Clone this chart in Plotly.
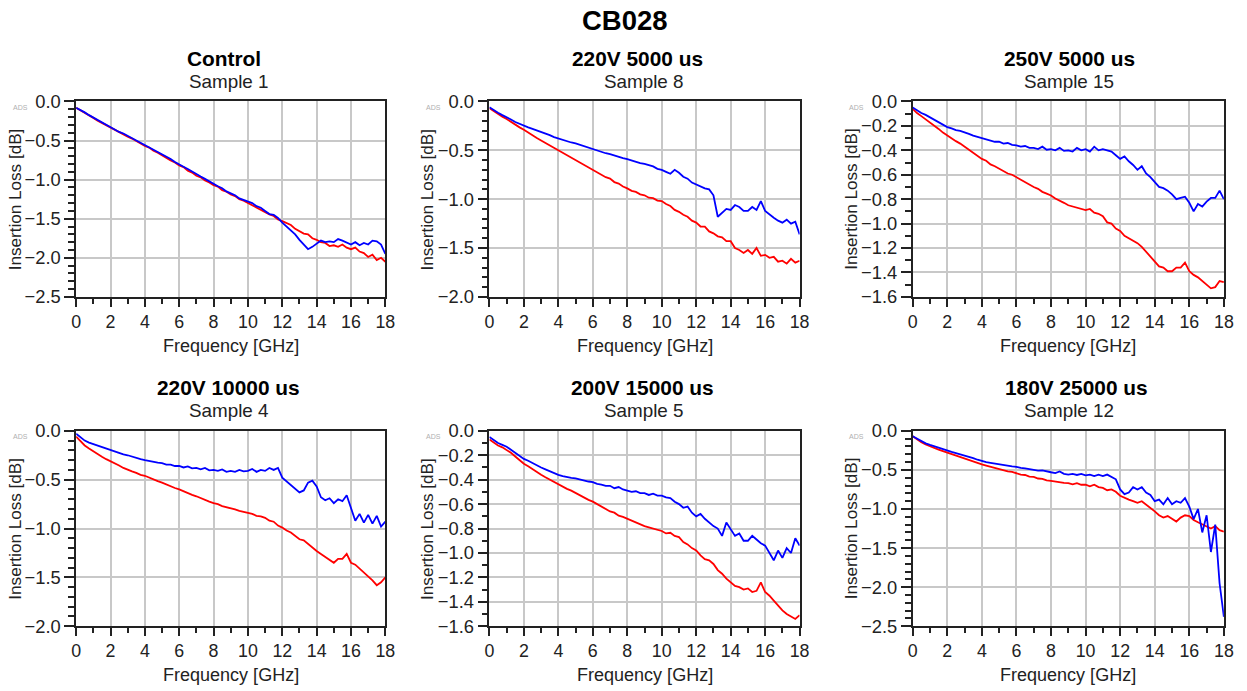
import plotly.graph_objects as go

# ---------------- data ----------------
freq_ghz = [
    0.0, 0.25, 0.5, 0.75, 1.0, 1.25, 1.5, 1.75, 2.0, 2.25, 2.5, 2.75,
    3.0, 3.25, 3.5, 3.75, 4.0, 4.25, 4.5, 4.75, 5.0, 5.25, 5.5, 5.75,
    6.0, 6.25, 6.5, 6.75, 7.0, 7.25, 7.5, 7.75, 8.0, 8.25, 8.5, 8.75,
    9.0, 9.25, 9.5, 9.75, 10.0, 10.25, 10.5, 10.75, 11.0, 11.25, 11.5, 11.75,
    12.0, 12.25, 12.5, 12.75, 13.0, 13.25, 13.5, 13.75, 14.0, 14.25, 14.5, 14.75,
    15.0, 15.25, 15.5, 15.75, 16.0, 16.25, 16.5, 16.75, 17.0, 17.25, 17.5, 17.75,
    18.0,
]

# Panel 1 - Control / Sample 1
control_red = [
    -0.08, -0.11, -0.145, -0.18, -0.21, -0.245, -0.275, -0.31,
    -0.34, -0.365, -0.395, -0.42, -0.45, -0.475, -0.51, -0.535,
    -0.57, -0.59, -0.63, -0.655, -0.69, -0.715, -0.755, -0.78,
    -0.82, -0.84, -0.885, -0.91, -0.95, -0.97, -1.01, -1.035,
    -1.07, -1.09, -1.135, -1.155, -1.19, -1.21, -1.25, -1.27,
    -1.30, -1.325, -1.35, -1.39, -1.41, -1.445, -1.465, -1.51,
    -1.53, -1.56, -1.58, -1.63, -1.66, -1.69, -1.70, -1.75,
    -1.77, -1.80, -1.81, -1.85, -1.84, -1.86, -1.83, -1.87,
    -1.89, -1.87, -1.92, -1.94, -1.99, -1.96, -2.03, -2.00,
    -2.05,
]
control_blue = [
    -0.08, -0.105, -0.14, -0.175, -0.205, -0.24, -0.27, -0.305,
    -0.335, -0.36, -0.39, -0.41, -0.44, -0.465, -0.495, -0.52,
    -0.555, -0.585, -0.61, -0.645, -0.67, -0.71, -0.735, -0.775,
    -0.80, -0.835, -0.865, -0.90, -0.93, -0.96, -0.99, -1.025,
    -1.05, -1.085, -1.11, -1.15, -1.175, -1.20, -1.24, -1.26,
    -1.28, -1.30, -1.34, -1.36, -1.40, -1.44, -1.45, -1.49,
    -1.55, -1.60, -1.65, -1.70, -1.77, -1.83, -1.89, -1.86,
    -1.82, -1.78, -1.80, -1.79, -1.80, -1.76, -1.78, -1.81,
    -1.83, -1.80, -1.84, -1.81, -1.83, -1.78, -1.79, -1.83,
    -1.95,
]

# Panel 2 - 220V 5000 us / Sample 8
s8_red = [
    -0.07, -0.10, -0.13, -0.155, -0.18, -0.21, -0.235, -0.265,
    -0.29, -0.32, -0.345, -0.375, -0.40, -0.425, -0.45, -0.48,
    -0.50, -0.53, -0.55, -0.58, -0.60, -0.63, -0.65, -0.68,
    -0.70, -0.73, -0.75, -0.775, -0.79, -0.825, -0.84, -0.87,
    -0.89, -0.915, -0.925, -0.95, -0.96, -0.985, -0.99, -1.015,
    -1.02, -1.05, -1.07, -1.11, -1.13, -1.16, -1.18, -1.22,
    -1.24, -1.28, -1.28, -1.33, -1.35, -1.38, -1.39, -1.43,
    -1.43, -1.50, -1.52, -1.55, -1.52, -1.56, -1.50, -1.58,
    -1.57, -1.60, -1.59, -1.64, -1.63, -1.66, -1.61, -1.65,
    -1.63,
]
s8_blue = [
    -0.06, -0.09, -0.115, -0.14, -0.16, -0.185, -0.21, -0.23,
    -0.25, -0.265, -0.28, -0.295, -0.31, -0.33, -0.345, -0.365,
    -0.38, -0.39, -0.405, -0.42, -0.43, -0.445, -0.46, -0.475,
    -0.49, -0.50, -0.52, -0.53, -0.54, -0.555, -0.57, -0.58,
    -0.59, -0.605, -0.62, -0.63, -0.64, -0.655, -0.665, -0.69,
    -0.70, -0.72, -0.74, -0.70, -0.73, -0.77, -0.79, -0.83,
    -0.85, -0.87, -0.89, -0.90, -0.96, -1.18, -1.14, -1.10,
    -1.11, -1.06, -1.08, -1.12, -1.12, -1.08, -1.11, -1.02,
    -1.12, -1.16, -1.19, -1.22, -1.24, -1.21, -1.25, -1.23,
    -1.36,
]

# Panel 3 - 250V 5000 us / Sample 15
s15_red = [
    -0.06, -0.095, -0.12, -0.145, -0.17, -0.20, -0.225, -0.255,
    -0.28, -0.30, -0.325, -0.345, -0.37, -0.395, -0.42, -0.445,
    -0.47, -0.485, -0.515, -0.53, -0.55, -0.565, -0.59, -0.60,
    -0.62, -0.645, -0.66, -0.685, -0.70, -0.715, -0.74, -0.755,
    -0.77, -0.795, -0.81, -0.83, -0.85, -0.86, -0.875, -0.88,
    -0.89, -0.88, -0.91, -0.92, -0.94, -0.99, -1.00, -1.04,
    -1.06, -1.10, -1.12, -1.14, -1.16, -1.19, -1.23, -1.27,
    -1.31, -1.35, -1.36, -1.39, -1.39, -1.36, -1.36, -1.32,
    -1.39, -1.42, -1.44, -1.47, -1.50, -1.53, -1.52, -1.47,
    -1.48,
]
s15_blue = [
    -0.05, -0.075, -0.095, -0.11, -0.13, -0.15, -0.17, -0.19,
    -0.21, -0.22, -0.235, -0.24, -0.25, -0.265, -0.28, -0.29,
    -0.30, -0.315, -0.32, -0.33, -0.33, -0.345, -0.34, -0.355,
    -0.36, -0.37, -0.365, -0.38, -0.38, -0.39, -0.37, -0.395,
    -0.39, -0.40, -0.38, -0.405, -0.40, -0.41, -0.38, -0.40,
    -0.39, -0.41, -0.37, -0.40, -0.39, -0.40, -0.41, -0.44,
    -0.47, -0.45, -0.49, -0.52, -0.56, -0.53, -0.59, -0.62,
    -0.66, -0.70, -0.71, -0.73, -0.76, -0.80, -0.79, -0.78,
    -0.83, -0.90, -0.84, -0.86, -0.82, -0.79, -0.79, -0.73,
    -0.80,
]

# Panel 4 - 220V 10000 us / Sample 4
s4_red = [
    -0.06, -0.11, -0.15, -0.18, -0.21, -0.24, -0.265, -0.29,
    -0.31, -0.335, -0.355, -0.38, -0.40, -0.415, -0.43, -0.45,
    -0.46, -0.48, -0.50, -0.515, -0.53, -0.55, -0.565, -0.585,
    -0.60, -0.62, -0.635, -0.655, -0.67, -0.69, -0.705, -0.725,
    -0.74, -0.75, -0.77, -0.78, -0.79, -0.805, -0.82, -0.83,
    -0.84, -0.85, -0.87, -0.875, -0.89, -0.92, -0.93, -0.97,
    -0.99, -1.02, -1.04, -1.08, -1.11, -1.12, -1.16, -1.19,
    -1.23, -1.26, -1.29, -1.32, -1.35, -1.31, -1.31, -1.26,
    -1.35, -1.37, -1.41, -1.44, -1.48, -1.53, -1.58, -1.55,
    -1.50,
]
s4_blue = [
    -0.03, -0.07, -0.10, -0.12, -0.135, -0.155, -0.17, -0.185,
    -0.20, -0.21, -0.225, -0.24, -0.25, -0.265, -0.275, -0.29,
    -0.30, -0.31, -0.32, -0.325, -0.33, -0.345, -0.345, -0.36,
    -0.36, -0.375, -0.365, -0.385, -0.38, -0.395, -0.38, -0.405,
    -0.40, -0.41, -0.395, -0.42, -0.41, -0.42, -0.40, -0.415,
    -0.41, -0.39, -0.42, -0.40, -0.41, -0.38, -0.40, -0.38,
    -0.48, -0.52, -0.55, -0.60, -0.63, -0.61, -0.53, -0.51,
    -0.57, -0.68, -0.71, -0.69, -0.74, -0.70, -0.72, -0.66,
    -0.80, -0.92, -0.85, -0.94, -0.86, -0.95, -0.87, -0.98,
    -0.93,
]

# Panel 5 - 200V 15000 us / Sample 5
s5_red = [
    -0.07, -0.095, -0.12, -0.135, -0.155, -0.18, -0.21, -0.24,
    -0.27, -0.29, -0.315, -0.335, -0.36, -0.38, -0.40, -0.42,
    -0.44, -0.455, -0.475, -0.49, -0.51, -0.53, -0.545, -0.565,
    -0.58, -0.60, -0.62, -0.64, -0.66, -0.67, -0.695, -0.705,
    -0.72, -0.74, -0.75, -0.765, -0.78, -0.79, -0.80, -0.81,
    -0.82, -0.84, -0.835, -0.86, -0.87, -0.91, -0.93, -0.96,
    -0.98, -1.02, -1.05, -1.06, -1.09, -1.14, -1.17, -1.21,
    -1.24, -1.27, -1.28, -1.30, -1.29, -1.32, -1.31, -1.24,
    -1.32, -1.35, -1.39, -1.43, -1.47, -1.50, -1.52, -1.54,
    -1.51,
]
s5_blue = [
    -0.05, -0.075, -0.10, -0.115, -0.13, -0.155, -0.18, -0.205,
    -0.23, -0.245, -0.265, -0.28, -0.30, -0.315, -0.33, -0.35,
    -0.36, -0.37, -0.38, -0.385, -0.39, -0.40, -0.41, -0.415,
    -0.42, -0.435, -0.44, -0.45, -0.45, -0.47, -0.46, -0.48,
    -0.49, -0.50, -0.495, -0.51, -0.51, -0.525, -0.515, -0.53,
    -0.53, -0.545, -0.55, -0.58, -0.60, -0.63, -0.62, -0.67,
    -0.70, -0.68, -0.72, -0.75, -0.78, -0.80, -0.86, -0.75,
    -0.81, -0.86, -0.84, -0.90, -0.90, -0.86, -0.89, -0.92,
    -0.94, -1.00, -1.06, -0.98, -1.04, -0.96, -1.00, -0.88,
    -0.94,
]

# Panel 6 - 180V 25000 us / Sample 12
s12_red = [
    -0.07, -0.11, -0.145, -0.175, -0.20, -0.22, -0.24, -0.26,
    -0.28, -0.30, -0.32, -0.34, -0.36, -0.38, -0.395, -0.415,
    -0.43, -0.445, -0.46, -0.475, -0.49, -0.50, -0.52, -0.525,
    -0.54, -0.56, -0.565, -0.585, -0.59, -0.61, -0.615, -0.635,
    -0.64, -0.65, -0.66, -0.665, -0.67, -0.685, -0.67, -0.69,
    -0.69, -0.71, -0.69, -0.72, -0.73, -0.76, -0.75, -0.78,
    -0.83, -0.86, -0.88, -0.90, -0.92, -0.90, -0.94, -0.98,
    -1.03, -1.08, -1.11, -1.09, -1.13, -1.16, -1.11, -1.08,
    -1.09, -1.14, -1.17, -1.20, -1.22, -1.25, -1.22, -1.27,
    -1.29,
]
s12_blue = [
    -0.07, -0.10, -0.135, -0.16, -0.18, -0.20, -0.22, -0.235,
    -0.25, -0.27, -0.285, -0.30, -0.32, -0.335, -0.35, -0.37,
    -0.39, -0.40, -0.41, -0.42, -0.43, -0.44, -0.45, -0.455,
    -0.46, -0.475, -0.48, -0.49, -0.50, -0.51, -0.505, -0.52,
    -0.53, -0.54, -0.52, -0.55, -0.56, -0.55, -0.565, -0.55,
    -0.57, -0.56, -0.58, -0.56, -0.58, -0.56, -0.59, -0.62,
    -0.75, -0.81, -0.79, -0.72, -0.75, -0.72, -0.79, -0.82,
    -0.90, -0.88, -0.94, -0.86, -0.94, -0.90, -0.92, -0.86,
    -0.97, -1.13, -1.00, -1.30, -1.08, -1.55, -1.20, -1.95,
    -2.38,
]

panel_titles = ["Control", "220V 5000 us", "250V 5000 us",
                "220V 10000 us", "200V 15000 us", "180V 25000 us"]
panel_samples = ["Sample 1", "Sample 8", "Sample 15",
                 "Sample 4", "Sample 5", "Sample 12"]
red_series = [control_red, s8_red, s15_red, s4_red, s5_red, s12_red]
blue_series = [control_blue, s8_blue, s15_blue, s4_blue, s5_blue, s12_blue]
y_min = [-2.5, -2.0, -1.6, -2.0, -1.6, -2.5]
y_major = [0.5, 0.5, 0.2, 0.5, 0.2, 0.5]

# ---------------- layout geometry ----------------
W, H = 1247, 691
# the captured page is rendered with an 8px page margin and scaled to fit,
# so target screen positions are converted back to figure pixels
OFF = 8
SX, SY = W / (W + 2 * OFF), H / (H + 2 * OFF)
FS = 2 / (SX + SY)          # font compensation

col_px = [(79, 388), (492, 802), (915, 1226)]
row_px = [(99, 296), (431, 628)]
title_x_px = [227, 640, 1072, 231, 645, 1079]
sample_x_px = [232, 646, 1071, 232, 646, 1071]
ytitle_x_px = [18, 430, 854]

FONT = "Liberation Sans, Arial, sans-serif"


def px_x(p):
    return (p / SX - OFF) / W


def px_y(p):
    return 1 - (p / SY - OFF) / H


def fs(s):
    return round(s * FS, 2)


fig = go.Figure()
layout_axes = {}
annotations = []

for i in range(6):
    r, c = divmod(i, 3)
    n = i + 1
    xa = "x" if n == 1 else f"x{n}"
    ya = "y" if n == 1 else f"y{n}"
    fig.add_trace(go.Scatter(x=freq_ghz, y=red_series[i], mode="lines",
                             line=dict(color="#FF0000", width=1.8),
                             xaxis=xa, yaxis=ya, showlegend=False,
                             hoverinfo="skip"))
    fig.add_trace(go.Scatter(x=freq_ghz, y=blue_series[i], mode="lines",
                             line=dict(color="#0000FF", width=1.8),
                             xaxis=xa, yaxis=ya, showlegend=False,
                             hoverinfo="skip"))

    x0, x1 = col_px[c]
    t0, t1 = row_px[r]
    xkey = "xaxis" if n == 1 else f"xaxis{n}"
    ykey = "yaxis" if n == 1 else f"yaxis{n}"
    layout_axes[xkey] = dict(
        domain=[px_x(x0), px_x(x1)], anchor=ya, range=[0, 18],
        tick0=0, dtick=2, ticks="outside", ticklen=8, tickwidth=1.5,
        tickcolor="#222", showline=True, linecolor="#222", linewidth=1.5,
        mirror=True, showgrid=True, gridcolor="#c8c8c8", gridwidth=1.5,
        zeroline=False, tickfont=dict(family=FONT, size=fs(17.5), color="#222"),
        minor=dict(dtick=1, ticks="outside", ticklen=5, tickcolor="#222",
                   showgrid=False),
    )
    layout_axes[ykey] = dict(
        domain=[px_y(t1), px_y(t0)], anchor=xa, range=[y_min[i], 0],
        tick0=0, dtick=y_major[i], tickformat=".1f", ticks="outside",
        ticklen=10, tickwidth=1.5, tickcolor="#222", showline=True,
        linecolor="#222", linewidth=1.5, mirror=True, showgrid=True,
        gridcolor="#c8c8c8", gridwidth=1.5, zeroline=False,
        tickfont=dict(family=FONT, size=fs(18), color="#222"),
        minor=dict(dtick=0.1, ticks="outside", ticklen=6, tickcolor="#222",
                   showgrid=False),
    )

    ty = 56 if r == 0 else 387
    sy = 79 if r == 0 else 411
    annotations.append(dict(text=f"<b>{panel_titles[i]}</b>", xref="paper",
                            yref="paper", x=px_x(title_x_px[i]), y=px_y(ty),
                            xanchor="center", yanchor="middle", showarrow=False,
                            font=dict(family=FONT, size=fs(20.5), color="#000")))
    annotations.append(dict(text=panel_samples[i], xref="paper", yref="paper",
                            x=px_x(sample_x_px[i]), y=px_y(sy),
                            xanchor="center", yanchor="middle", showarrow=False,
                            font=dict(family=FONT, size=fs(18.5), color="#222")))
    # axis titles
    annotations.append(dict(text="Frequency [GHz]", xref="paper", yref="paper",
                            x=px_x((x0 + x1) / 2), y=px_y(t1 + 49),
                            xanchor="center", yanchor="middle", showarrow=False,
                            font=dict(family=FONT, size=fs(17.7), color="#222")))
    annotations.append(dict(text="Insertion Loss [dB]", xref="paper",
                            yref="paper", x=px_x(ytitle_x_px[c]),
                            y=px_y((t0 + t1) / 2), textangle=-90,
                            xanchor="center", yanchor="middle", showarrow=False,
                            font=dict(family=FONT, size=fs(16.8), color="#222")))
    annotations.append(dict(text="ADS", xref="paper", yref="paper",
                            x=px_x(x0 - 56), y=px_y(t0 + 6),
                            xanchor="center", yanchor="middle", showarrow=False,
                            font=dict(family=FONT, size=7, color="#b0b0b0")))

annotations.append(dict(text="<b>CB028</b>", xref="paper", yref="paper",
                        x=px_x(627), y=px_y(17), xanchor="center",
                        yanchor="middle", showarrow=False,
                        font=dict(family=FONT, size=fs(27), color="#000")))

fig.update_layout(
    width=W, height=H, margin=dict(l=0, r=0, t=0, b=0),
    paper_bgcolor="white", plot_bgcolor="white",
    annotations=annotations, **layout_axes,
)

fig.write_html("out.html")
